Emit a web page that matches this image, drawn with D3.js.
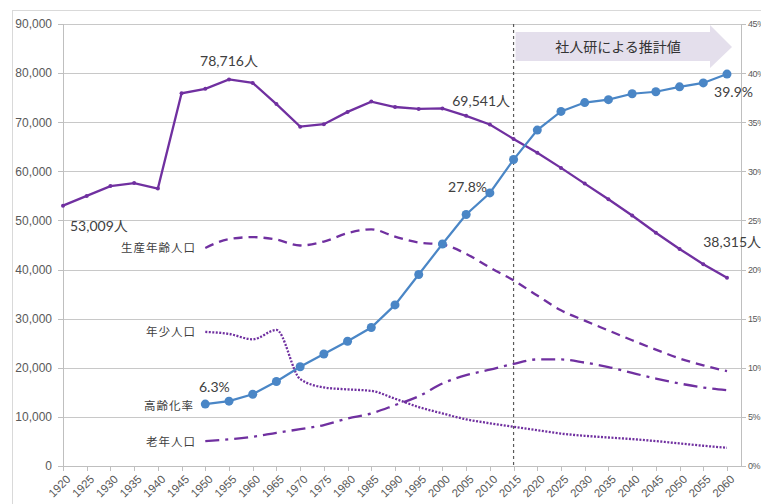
<!DOCTYPE html>
<html>
<head>
<meta charset="utf-8">
<style>
  body { margin: 0; background: #fff; }
  svg { font-family: Lato, "Noto Sans CJK JP", sans-serif; }
  .grid line { stroke: #c8c8c8; shape-rendering: crispEdges; }
  .grid path { display: none; }
  .axis path, .axis line { stroke: #bfbfbf; shape-rendering: crispEdges; }
  .axis text { fill: #595959; font-size: 12px; }
  .note { fill: #404040; font-size: 14px; }
  .lab { fill: #404040; font-size: 11.5px; font-family: "Noto Sans CJK JP", sans-serif; letter-spacing: 1px; }
</style>
<script src="https://d3js.org/d3.v7.min.js"></script>
</head>
<body>
<script>
// years on the category axis
var years = [1920,1925,1930,1935,1940,1945,1950,1955,1960,1965,1970,1975,1980,1985,1990,
             1995,2000,2005,2010,2015,2020,2025,2030,2035,2040,2045,2050,2055,2060];

// total population
var total = [53009,55000,57000,57600,56500,75900,76800,78716,78000,73700,69100,69600,72100,74200,73100,
             72700,72800,71300,69541,66600,63800,60700,57500,54300,51000,47500,44200,41100,38315];
// working age 15-64
var working = [null,null,null,null,null,null,44400,46200,46600,46100,44900,45700,47400,48200,46700,
               45500,45100,43200,40400,37800,34700,31700,29600,27600,25600,23700,21900,20500,19300];
// youth 0-14
var youth = [null,null,null,null,null,null,27300,26900,25800,27700,17700,16000,15600,15300,13700,
             12000,10700,9500,8700,8000,7300,6600,6150,5800,5480,5070,4600,4120,3710];
// elderly 65+
var elderly = [null,null,null,null,null,null,5070,5420,5950,6760,7500,8320,9680,10700,12400,
               14200,16800,18500,19600,20800,21700,21700,21050,20150,18950,17800,16800,15970,15430];
// aging rate (%)
var aging = [null,null,null,null,null,null,6.3,6.6,7.3,8.6,10.1,11.4,12.7,14.1,16.4,
             19.5,22.6,25.6,27.8,31.2,34.2,36.1,37.0,37.3,37.9,38.1,38.6,39.0,39.9];

var leftTicks = [0,10000,20000,30000,40000,50000,60000,70000,80000,90000];
var rightTicks = [0,5,10,15,20,25,30,35,40,45];

var W = 761, H = 504;
var pLeft = 63, pRight = 741, pTop = 24, pBottom = 466;

var svg = d3.select("body").append("svg").attr("width", W).attr("height", H);

// outer frame
svg.append("rect").attr("x", 12.5).attr("y", 10.5).attr("width", 800).attr("height", 600)
  .attr("fill", "none").attr("stroke", "#d9d9d9");

var x = d3.scalePoint().domain(years).range([pLeft, 727]);
var y = d3.scaleLinear().domain([0, 90000]).range([pBottom, pTop]);
var y2 = d3.scaleLinear().domain([0, 45]).range([pBottom, pTop]);

// gridlines
svg.append("g").attr("class", "grid")
  .attr("transform", "translate(" + pLeft + ",0)")
  .call(d3.axisLeft(y).tickValues(leftTicks).tickSize(-(pRight - pLeft)).tickFormat(""));

// left axis
svg.append("g").attr("class", "axis")
  .attr("transform", "translate(" + pLeft + ",0)")
  .call(d3.axisLeft(y).tickValues(leftTicks).tickSize(5).tickPadding(6).tickFormat(d3.format(",")));

// right axis
svg.append("g").attr("class", "axis")
  .attr("transform", "translate(" + pRight + ",0)")
  .call(d3.axisRight(y2).tickValues(rightTicks).tickSize(5).tickPadding(2).tickFormat(function(d){ return d + "%"; }))
  .selectAll("text").style("font-size", "9px").style("letter-spacing", "-0.4px");

// bottom axis
var xa = svg.append("g").attr("class", "axis")
  .attr("transform", "translate(0," + pBottom + ")")
  .call(d3.axisBottom(x).tickSize(5));
xa.select(".domain").attr("d", "M" + pLeft + ",0.5H" + pRight);
xa.selectAll("text")
  .style("font-size", "11.5px")
  .attr("x", 0).attr("y", 0).attr("dy", "0.35em")
  .attr("transform", "translate(5,11) rotate(-45)")
  .style("text-anchor", "end");

// projection arrow
var ax0 = x(2015) + 2, ax1 = 710, tip = 732;
svg.append("path")
  .attr("d", "M" + ax0 + ",32H" + ax1 + "V25L" + tip + ",47L" + ax1 + ",68V61H" + ax0 + "Z")
  .attr("fill", "#e4dfec");
svg.append("text").attr("x", 618).attr("y", 52).attr("text-anchor", "middle")
  .attr("fill", "#333").style("font-size", "14px").style("font-family", "'Noto Sans CJK JP', sans-serif")
  .text("社人研による推計値");

// 2015 divider
svg.append("line").attr("x1", x(2015)).attr("x2", x(2015)).attr("y1", pTop).attr("y2", pBottom)
  .attr("stroke", "#595959").attr("stroke-width", 1.2).attr("stroke-dasharray", "3,3");

var purple = "#7030a0", blue = "#4a86c6";

function addLine(vals, scale, curve, dash, width) {
  var line = d3.line()
    .defined(function(d){ return d != null; })
    .x(function(d, i){ return x(years[i]); })
    .y(function(d){ return scale(d); })
    .curve(curve);
  return svg.append("path").datum(vals)
    .attr("d", line)
    .attr("fill", "none")
    .attr("stroke", purple)
    .attr("stroke-width", width)
    .attr("stroke-dasharray", dash);
}

addLine(working, y, d3.curveMonotoneX, "9,6", 2.3);
addLine(youth, y, d3.curveMonotoneX, "2,1.5", 2.3);
addLine(elderly, y, d3.curveMonotoneX, "14,6,3,6", 2.3);
addLine(total, y, d3.curveLinear, null, 2.3);

svg.selectAll(".tdot").data(total).enter().append("circle")
  .attr("cx", function(d, i){ return x(years[i]); })
  .attr("cy", function(d){ return y(d); })
  .attr("r", 2).attr("fill", purple);

// aging rate
var agingLine = d3.line()
  .defined(function(d){ return d != null; })
  .x(function(d, i){ return x(years[i]); })
  .y(function(d){ return y2(d); });
svg.append("path").datum(aging).attr("d", agingLine)
  .attr("fill", "none").attr("stroke", blue).attr("stroke-width", 2.2);
svg.selectAll(".adot").data(aging.map(function(d, i){ return {v: d, yr: years[i]}; })
    .filter(function(d){ return d.v != null; }))
  .enter().append("circle")
  .attr("cx", function(d){ return x(d.yr); })
  .attr("cy", function(d){ return y2(d.v); })
  .attr("r", 4.5).attr("fill", blue);

// value notes
function note(t, px, py, anchor) {
  svg.append("text").attr("class", "note").attr("x", px).attr("y", py)
    .attr("text-anchor", anchor || "start").text(t);
}
note("78,716人", x(1955), 66, "middle");
note("53,009人", 70, 231);
note("69,541人", 510, 106, "end");
note("27.8%", 487, 192, "end");
note("39.9%", 753, 97, "end");
note("38,315人", 761, 247, "end");
note("6.3%", 199, 392);

// series labels
function lab(t, px, py) {
  svg.append("text").attr("class", "lab").attr("x", px).attr("y", py)
    .attr("text-anchor", "end").text(t);
}
lab("生産年齢人口", 196, 252);
lab("年少人口", 196, 336);
lab("高齢化率", 194, 410);
lab("老年人口", 196, 446);
</script>
</body>
</html>
